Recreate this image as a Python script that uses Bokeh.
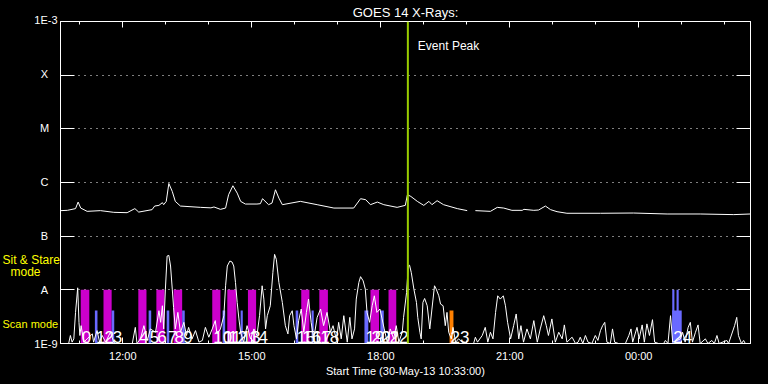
from bokeh.plotting import figure
from bokeh.layouts import row
from bokeh.models import (Range1d, LogAxis, LinearAxis, FixedTicker, Span, Label,
                          ColumnDataSource, CustomJSTickFormatter)
from bokeh.core.properties import value
from bokeh.embed import file_html
from bokeh.resources import INLINE

FONT = "Liberation Sans"

# ---------------- data ----------------
# time axis: hours of day (30-May-13), values > 24 are the next day
start_hour = 10.55          # 10:33:00
end_hour = 26.60
event_peak_hour = 18.63

x_tick_values = [12, 15, 18, 21, 24]
x_tick_labels = ["12:00", "15:00", "18:00", "21:00", "00:00"]
x_minor_hours = [11, 13, 14, 16, 17, 19, 20, 22, 23, 25, 26]

y_tick_values = [1e-9, 1e-8, 1e-7, 1e-6, 1e-5, 1e-4, 1e-3]
y_tick_labels = ["1E-9", "A", "B", "C", "M", "X", "1E-3"]
class_levels = [1e-8, 1e-7, 1e-6, 1e-5, 1e-4]

mode_labels = ["Sit & Stare", "mode", "Scan mode"]

# GOES 14 long channel (1-8 A), W/m^2
long_time = [10.56, 10.71, 10.90, 10.96, 11.02, 11.17, 11.48, 11.79, 12.10, 12.28,
             12.37, 12.68, 12.74, 12.84, 12.92, 12.95, 13.01, 13.07, 13.15, 13.22,
             13.34, 13.81, 14.05, 14.12, 14.27, 14.39, 14.46, 14.56, 14.66, 14.74,
             14.85, 15.12, 15.20, 15.25, 15.39, 15.47, 15.55, 15.63, 15.71, 16.13,
             16.52, 16.91, 17.37, 17.53, 17.65, 17.76, 17.92, 18.07, 18.38, 18.57,
             18.62, 18.70, 18.85, 19.00, 19.12, 19.19, 19.31, 19.46, 19.78, 20.01,
             20.10, 20.20, 20.55, 20.71, 20.86, 21.05, 21.29, 21.33, 21.56, 21.67,
             21.83, 21.95, 22.10, 22.33, 23.11, 23.88, 24.66, 25.43, 26.21, 26.60]
long_flux = [2.99e-7, 3.03e-7, 3.26e-7, 4.32e-7, 3.34e-7, 2.90e-7, 2.99e-7, 2.78e-7, 2.74e-7, 3.26e-7,
             2.81e-7, 3.12e-7, 3.64e-7, 3.75e-7, 4.21e-7, 3.86e-7, 4.45e-7, 9.58e-7, 6.81e-7, 4.45e-7,
             3.64e-7, 3.44e-7, 3.37e-7, 3.50e-7, 3.16e-7, 3.34e-7, 5.92e-7, 8.69e-7, 6.34e-7, 4.45e-7,
             3.97e-7, 3.97e-7, 4.03e-7, 4.99e-7, 3.86e-7, 4.14e-7, 7.32e-7, 5.12e-7, 3.86e-7, 4.45e-7,
             3.86e-7, 3.34e-7, 3.34e-7, 4.99e-7, 4.78e-7, 3.86e-7, 4.32e-7, 3.86e-7, 3.44e-7, 3.75e-7,
             5.92e-7, 5.50e-7, 4.45e-7, 3.75e-7, 4.45e-7, 3.86e-7, 4.58e-7, 3.86e-7, 3.26e-7, 2.99e-7,
             float("nan"), 2.99e-7, 2.90e-7, 3.44e-7, 3.34e-7, 3.03e-7, 3.03e-7, 3.16e-7, 3.03e-7, 3.07e-7,
             3.64e-7, 3.12e-7, 2.86e-7, 2.67e-7, 2.67e-7, 2.70e-7, 2.59e-7, 2.59e-7, 2.52e-7, 2.59e-7]

# GOES 14 short channel (0.5-4 A), in units of 1e-9 W/m^2
short_time = [10.55, 10.74, 10.78, 10.82, 10.86, 10.90, 10.95, 10.98, 11.00, 11.03,
              11.09, 11.17, 11.29, 11.32, 11.40, 11.46, 11.52, 11.60, 11.71, 11.79,
              11.83, 12.22, 12.29, 12.33, 12.41, 12.49, 12.57, 12.64, 12.76, 12.84,
              12.88, 12.92, 12.95, 12.99, 13.03, 13.07, 13.11, 13.15, 13.18, 13.22,
              13.28, 13.34, 13.42, 13.48, 13.53, 13.61, 13.69, 13.77, 13.85, 13.92,
              14.00, 14.08, 14.15, 14.19, 14.27, 14.35, 14.39, 14.43, 14.49, 14.54,
              14.58, 14.62, 14.66, 14.70, 14.74, 14.81, 14.89, 14.97, 15.05, 15.12,
              15.18, 15.24, 15.28, 15.32, 15.36, 15.43, 15.49, 15.53, 15.57, 15.63,
              15.71, 15.78, 15.84, 15.88, 15.94, 15.98, 16.04, 16.09, 16.15, 16.21,
              16.27, 16.32, 16.38, 16.44, 16.52, 16.60, 16.67, 16.75, 16.83, 16.89,
              16.97, 17.02, 17.08, 17.14, 17.22, 17.28, 17.33, 17.39, 17.43, 17.49,
              17.53, 17.59, 17.64, 17.68, 17.74, 17.80, 17.85, 17.91, 17.98, 18.03,
              18.08, 18.15, 18.22, 18.30, 18.36, 18.42, 18.50, 18.53, 18.60, 18.64,
              18.67, 18.71, 18.77, 18.83, 18.86, 18.91, 18.94, 18.98, 19.02, 19.08,
              19.14, 19.19, 19.25, 19.29, 19.35, 19.39, 19.45, 19.50, 19.54, 19.58,
              19.64, 19.68, 19.74, 19.81, 19.89, 20.01, 20.16, 20.20, 20.25, 20.36,
              20.43, 20.49, 20.55, 20.61, 20.67, 20.72, 20.78, 20.85, 20.90, 20.95,
              21.02, 21.09, 21.15, 21.21, 21.26, 21.32, 21.40, 21.48, 21.56, 21.64,
              21.71, 21.79, 21.85, 21.90, 21.98, 22.06, 22.14, 22.22, 22.27, 22.33,
              22.45, 22.53, 22.59, 22.64, 22.70, 22.76, 22.82, 22.91, 22.99, 23.05,
              23.11, 23.16, 23.21, 23.26, 23.34, 23.39, 23.44, 23.53, 23.69, 23.77,
              23.82, 23.86, 23.96, 24.01, 24.08, 24.13, 24.19, 24.25, 24.32, 24.37,
              24.46, 24.58, 24.62, 24.68, 24.74, 24.79, 24.89, 24.97, 25.02, 25.08,
              25.15, 25.20, 25.25, 25.32, 25.38, 25.43, 25.55, 25.61, 25.70, 25.76,
              25.82, 25.87, 26.05, 26.09, 26.23, 26.28, 26.32, 26.39, 26.44, 26.48]
short_flux_nano = [1.0, 1.0, 1.41, 1.06, 1.22, 3.80, 10.9, 2.48, 1.41, 2.15,
                   1.06, 1.22, 1.51, 1.06, 1.74, 1.06, 1.41, 1.06, 1.62, 1.06,
                   1.0, 1.0, 2.00, 1.0, 1.22, 2.15, 1.14, 1.87, 1.62, 4.08,
                   2.48, 5.05, 1.87, 10.3, 42.6, 43.9, 27.8, 10.3, 4.70, 1.87,
                   3.80, 1.62, 2.48, 1.41, 2.00, 1.22, 1.74, 1.06, 1.14, 2.00,
                   1.31, 1.87, 2.67, 1.51, 1.87, 3.30, 11.9, 27.8, 34.4, 33.0,
                   27.8, 13.7, 5.82, 2.87, 1.62, 1.06, 2.15, 1.22, 1.87, 1.41,
                   3.30, 11.9, 6.73, 1.87, 3.30, 5.05, 20.9, 45.8, 37.0, 13.7,
                   5.82, 2.15, 1.51, 3.30, 4.08, 2.15, 1.22, 2.67, 4.39, 1.62,
                   3.80, 6.73, 2.48, 1.22, 3.07, 4.39, 2.15, 3.80, 1.62, 2.15,
                   1.14, 2.48, 1.22, 3.30, 1.06, 3.07, 1.22, 1.87, 6.73, 13.7,
                   17.6, 14.7, 10.3, 3.80, 2.48, 5.05, 7.74, 3.80, 4.39, 2.87,
                   1.87, 1.06, 1.87, 1.22, 2.15, 1.06, 1.62, 3.07, 8.91, 27.8,
                   28.7, 20.9, 10.3, 5.82, 3.07, 1.62, 1.22, 5.82, 6.90, 5.05,
                   1.87, 4.39, 11.9, 10.3, 7.74, 5.43, 5.05, 2.15, 3.80, 1.62,
                   1.22, 2.00, 1.06, 1.22, 1.06, 1.0, 1.0, 1.31, 1.06, 1.41,
                   2.00, 1.06, 1.62, 1.22, 3.80, 7.74, 6.73, 7.74, 5.05, 2.48,
                   1.22, 2.15, 3.55, 1.22, 2.15, 1.06, 1.87, 1.22, 2.67, 1.06,
                   1.87, 3.30, 2.15, 1.41, 2.87, 1.06, 1.62, 1.22, 2.22, 1.06,
                   1.31, 1.0, 1.06, 1.31, 1.0, 1.41, 1.06, 1.0, 1.41, 1.14,
                   1.74, 2.15, 2.48, 1.06, 1.0, 1.87, 1.06, 1.0, 1.0, 1.41,
                   1.87, 1.06, 2.00, 1.22, 2.22, 1.06, 2.32, 1.41, 2.78, 1.06,
                   1.0, 1.0, 1.14, 1.0, 3.30, 1.06, 1.14, 1.22, 1.62, 1.06,
                   2.00, 2.48, 1.06, 1.62, 2.22, 1.0, 1.22, 1.0, 1.14, 1.0,
                   1.41, 1.0, 1.14, 1.0, 2.15, 3.07, 1.41, 1.0, 1.14, 1.0]

# observations (sit & stare / scan mode)
obs_start = [11.02, 11.35, 11.55, 11.74, 12.36, 12.60, 12.78, 13.02, 13.18, 13.38,
             14.08, 14.32, 14.43, 14.74, 14.91, 16.02, 16.15, 16.39, 16.57, 17.62,
             17.76, 17.99, 18.18, 19.60, 24.78, 24.78, 24.88]
obs_end = [11.22, 11.41, 11.74, 11.80, 12.55, 12.66, 12.97, 13.08, 13.38, 13.44,
           14.27, 14.38, 14.64, 14.79, 15.10, 16.08, 16.34, 16.44, 16.77, 17.71,
           17.96, 18.07, 18.36, 19.69, 25.00, 24.83, 24.93]
obs_kind = ["sit", "scan", "sit", "scan", "sit", "scan", "sit", "scan", "sit", "scan",
            "sit", "scan", "sit", "scan", "sit", "scan", "sit", "scan", "sit", "scan",
            "sit", "scan", "sit", "scan2", "scan", "sit2", "sit2"]
obs_label = ["0", "1", "2", "3", "4", "5", "6", "7", "8", "9",
             "10", "11", "12", "13", "14", "15", "16", "17", "18", "19",
             "20", "21", "22", "23", "24", "", ""]

# ---------------- styles ----------------
kind_color = {"sit": "#CC00CC", "scan": "#6A6AFF", "scan2": "#FF8000", "sit2": "#6A6AFF"}
kind_top = {"sit": 1e-8, "scan": 4.1e-9, "scan2": 4.1e-9, "sit2": 1e-8}

assert len(long_time) == len(long_flux)
assert len(short_time) == len(short_flux_nano)

W, H = 768, 384
BORDER_TOP, BORDER_BOTTOM, LEFT_W = 19, 41, 60
FRAME_H = H - BORDER_TOP - BORDER_BOTTOM
decades = 6.0
px_per_decade = FRAME_H / decades

# ---------- left label column (same log scale, its frame spans the full height) ----------
side_lo = y_tick_values[0] / 10 ** (BORDER_BOTTOM / px_per_decade)
side_hi = y_tick_values[-1] * 10 ** (BORDER_TOP / px_per_decade)
side = figure(frame_width=LEFT_W, frame_height=H, x_range=Range1d(0, LEFT_W),
              y_range=Range1d(side_lo, side_hi), y_axis_type="log",
              x_axis_location=None, y_axis_location=None,
              output_backend="svg", toolbar_location=None,
              background_fill_color="black", border_fill_color="black",
              outline_line_color=None, min_border=0)
if "frame_align" in side.properties():
    side.frame_align = False
side.xgrid.visible = False
side.ygrid.visible = False

num_idx = [i for i, t in enumerate(y_tick_labels) if t.startswith("1E")]
let_idx = [i for i, t in enumerate(y_tick_labels) if not t.startswith("1E")]
side.text(x=[57] * len(num_idx), y=[y_tick_values[i] for i in num_idx],
          text=[y_tick_labels[i] for i in num_idx], text_align="right", text_baseline="middle",
          text_color="white", text_font=value(FONT), text_font_size="11px")
side.text(x=[44] * len(let_idx), y=[y_tick_values[i] for i in let_idx],
          text=[y_tick_labels[i] for i in let_idx], text_align="center", text_baseline="middle",
          text_color="white", text_font=value(FONT), text_font_size="11px")
# mode labels: anchored on the A level / the bottom of the axis
side.text(x=[2], y=[class_levels[0]], text=[mode_labels[0]], y_offset=-30,
          text_align="left", text_baseline="middle",
          text_color="#FFFF00", text_font=value(FONT), text_font_size="12px")
side.text(x=[25], y=[class_levels[0]], text=[mode_labels[1]], y_offset=-18,
          text_align="center", text_baseline="middle",
          text_color="#FFFF00", text_font=value(FONT), text_font_size="12px")
side.text(x=[2], y=[y_tick_values[0]], text=[mode_labels[2]], y_offset=-20,
          text_align="left", text_baseline="middle",
          text_color="#FFFF00", text_font=value(FONT), text_font_size="11px")

# ---------- main plot ----------
p = figure(width=W - LEFT_W, height=H,
           x_range=Range1d(start_hour, end_hour),
           y_range=Range1d(y_tick_values[0], y_tick_values[-1]),
           y_axis_type="log", output_backend="svg", toolbar_location=None,
           background_fill_color="black", border_fill_color="black",
           outline_line_color="white", outline_line_width=1,
           min_border_left=0, min_border_right=18,
           min_border_top=BORDER_TOP, min_border_bottom=BORDER_BOTTOM)
if "frame_align" in p.properties():
    p.frame_align = False

p.title.text = "GOES 14 X-Rays:"
p.title.align = "center"
p.title.text_color = "white"
p.title.text_font = FONT
p.title.text_font_size = "13px"
p.title.text_font_style = "normal"
p.title.standoff = 4

x_fmt = CustomJSTickFormatter(args=dict(vals=x_tick_values, labs=x_tick_labels), code="""
for (let i = 0; i < vals.length; i++) { if (Math.abs(vals[i] - tick) < 1e-6) return labs[i]; }
return "";
""")
blank_fmt = CustomJSTickFormatter(code='return "";')

def style_x(ax, show):
    ax.ticker = FixedTicker(ticks=x_tick_values, minor_ticks=x_minor_hours)
    ax.formatter = x_fmt if show else blank_fmt
    ax.axis_line_color = "white"
    ax.major_tick_line_color = "white"
    ax.minor_tick_line_color = "white"
    ax.major_tick_in = 6
    ax.major_tick_out = 0
    ax.minor_tick_in = 3
    ax.minor_tick_out = 0
    ax.major_label_text_color = "white"
    ax.major_label_text_font = FONT
    ax.major_label_text_font_size = "11px" if show else "0px"
    ax.major_label_standoff = 6 if show else 0

def style_y(ax):
    ax.ticker = FixedTicker(ticks=y_tick_values, minor_ticks=[])
    ax.formatter = blank_fmt
    ax.axis_line_color = "white"
    ax.major_tick_line_color = "white"
    ax.minor_tick_line_color = None
    ax.major_tick_in = 14
    ax.major_tick_out = 0
    ax.major_label_text_font_size = "0px"
    ax.major_label_standoff = 0

style_x(p.xaxis[0], True)
p.xaxis[0].axis_label = "Start Time (30-May-13 10:33:00)"
p.xaxis[0].axis_label_text_color = "white"
p.xaxis[0].axis_label_text_font = FONT
p.xaxis[0].axis_label_text_font_size = "11px"
p.xaxis[0].axis_label_text_font_style = "normal"
p.xaxis[0].axis_label_standoff = 0
style_y(p.yaxis[0])

top_ax = LinearAxis()
style_x(top_ax, False)
p.add_layout(top_ax, "above")
right_ax = LogAxis()
style_y(right_ax)
p.add_layout(right_ax, "right")

p.xgrid.grid_line_color = None
p.ygrid.ticker = FixedTicker(ticks=class_levels, minor_ticks=[])
p.ygrid.grid_line_color = "white"
p.ygrid.grid_line_dash = "1 5"
p.ygrid.grid_line_width = 1

# observation bars
bars = ColumnDataSource(data=dict(
    left=obs_start, right=obs_end,
    top=[kind_top[k] for k in obs_kind],
    bottom=[y_tick_values[0]] * len(obs_kind),
    color=[kind_color[k] for k in obs_kind],
))
p.quad(left="left", right="right", top="top", bottom="bottom", source=bars,
       fill_color="color", line_color=None)

# light curves
p.line(long_time, long_flux, line_color="white", line_width=1)
p.line(short_time, [v * 1e-9 for v in short_flux_nano], line_color="white", line_width=1)

# observation numbers
lab_x = [s for s, l in zip(obs_start, obs_label) if l]
lab_t = [l for l in obs_label if l]
p.text(x=lab_x, y=[y_tick_values[0]] * len(lab_x), text=lab_t,
       text_color="white", text_font=value(FONT), text_font_size="17px",
       text_baseline="bottom", text_align="left", x_offset=1, y_offset=-1)

# event peak
p.add_layout(Span(location=event_peak_hour, dimension="height",
                  line_color="#99CC00", line_width=2))
p.add_layout(Label(x=event_peak_hour, y=y_tick_values[-1], text="Event Peak",
                   x_offset=10, y_offset=-24, text_baseline="middle",
                   text_color="white", text_font=FONT, text_font_size="12px"))

layout = row(side, p, spacing=0, styles={"background-color": "black"})
open("out.html", "w").write(file_html(layout, INLINE))
